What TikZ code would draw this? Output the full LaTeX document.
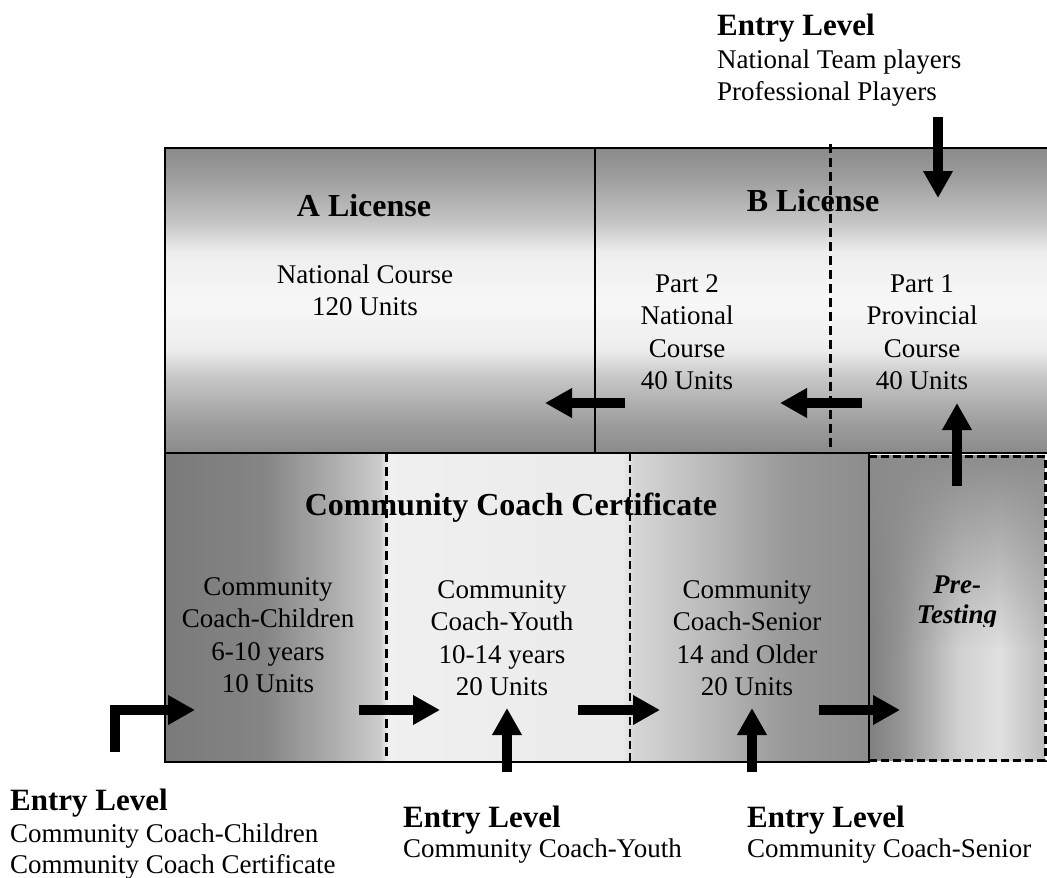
\documentclass[tikz,border=0pt]{standalone}
\usepackage{fontspec}
\setmainfont{Liberation Serif}
\usetikzlibrary{arrows.meta,fadings}

\definecolor{gA}{gray}{0.54}
\definecolor{gB}{gray}{0.62}
\definecolor{gC}{gray}{0.78}
\definecolor{gD}{gray}{0.93}
\definecolor{gE}{gray}{0.97}
\definecolor{h50}{gray}{0.48}
\definecolor{h53}{gray}{0.52}
\definecolor{h68}{gray}{0.68}
\definecolor{h82}{gray}{0.80}
\definecolor{h93}{gray}{0.94}
\definecolor{h92}{gray}{0.92}
\definecolor{h84}{gray}{0.84}
\definecolor{h74}{gray}{0.74}
\definecolor{h58}{gray}{0.60}
\definecolor{h55}{gray}{0.55}
\definecolor{p52}{gray}{0.50}
\definecolor{p58}{gray}{0.58}
\definecolor{p80}{gray}{0.82}
\definecolor{p84}{gray}{0.88}
\definecolor{p72}{gray}{0.74}
\definecolor{pover}{gray}{0.55}

\pgfdeclareverticalshading{topshade}{100bp}{color(0bp)=(gA); color(25bp)=(gA); color(30bp)=(gB); color(37.5bp)=(gC); color(42bp)=(gD); color(50bp)=(gE); color(58bp)=(gD); color(62.5bp)=(gC); color(70bp)=(gB); color(75bp)=(gA); color(100bp)=(gA)}
\pgfdeclarehorizontalshading{botshade}{100bp}{color(0bp)=(h50); color(25bp)=(h50); color(32bp)=(h53); color(37bp)=(h68); color(40.3bp)=(h82); color(40.8bp)=(h93); color(57.5bp)=(h92); color(58.3bp)=(h84); color(63bp)=(h74); color(69bp)=(h58); color(75bp)=(h55); color(100bp)=(h55)}
\pgfdeclarehorizontalshading{preshade}{100bp}{color(0bp)=(p52); color(25bp)=(p52); color(33.8bp)=(p58); color(50.9bp)=(p80); color(62bp)=(p84); color(75bp)=(p72); color(100bp)=(p72)}
\tikzfading[name=fadedown, top color=transparent!0, bottom color=transparent!100]

\tikzset{
  body/.style={font=\fontsize{27}{32.5}\selectfont, align=center, inner sep=0pt, anchor=north},
  bodyleft/.style={font=\fontsize{27}{31}\selectfont, align=left, inner sep=0pt, anchor=north west},
  titletext/.style={font=\fontsize{32}{36}\selectfont\bfseries, inner sep=0pt, anchor=base},
  entryhead/.style={font=\fontsize{31}{34}\selectfont\bfseries, inner sep=0pt, anchor=base west},
  pretext/.style={font=\fontsize{27}{30}\selectfont\bfseries\itshape, align=center, inner sep=0pt, anchor=north},
  blockarrow/.style={line width=10pt, -{Triangle[width=28pt,length=27pt]}},
  boxline/.style={line width=2pt},
  divline/.style={line width=1.5pt},
  thickdash/.style={line width=3pt, dash pattern=on 9pt off 5pt},
  thindash/.style={line width=1.4pt, dash pattern=on 8pt off 4pt},
  predash/.style={line width=3pt, dash pattern=on 8pt off 4pt}
}

\begin{document}
\begin{tikzpicture}[x=1pt,y=-1pt]
\useasboundingbox (0,0) rectangle (1047,878);

% ---- top box (A / B License)
\path[shading=topshade] (165,148) rectangle (1060,453);
\draw[boxline] (1060,148) -- (165,148) -- (165,453) -- (1060,453);

% ---- bottom box (Community Coach Certificate)
\path[shading=botshade] (165,453) rectangle (869,762);

% ---- pre-testing box
\path[shading=preshade] (869,455) rectangle (1045,760);
\fill[pover, path fading=fadedown] (869,455) rectangle (1045,650);

\draw[boxline] (165,453) rectangle (869,762);
\draw[predash] (869,456) -- (1045,456) -- (1045,760) -- (869,760);

% ---- texts
\node[titletext] (alic) at (364,216) {A License};
\node[body] (anat) at (365,260.5) {\strut National Course\\120 Units};
\node[titletext] (blic) at (813,211) {B License};
\node[body] (part2) at (687,269.5) {\strut Part 2\\National\\Course\\40 Units};
\node[body] (part1) at (922,269.5) {\strut Part 1\\Provincial\\Course\\40 Units};
\node[titletext] (ccc) at (511,515) {Community Coach Certificate};
\node[body] (child) at (268,572.5) {\strut Community\\Coach-Children\\6-10 years\\10 Units};
\node[body] (youth) at (502,575.5) {\strut Community\\Coach-Youth\\10-14 years\\20 Units};
\node[body] (senior) at (747,575.5) {\strut Community\\Coach-Senior\\14 and Older\\20 Units};
\begin{scope}
  \clip (869,455) rectangle (1045,626);
  \node[pretext] (pre) at (957,572) {\strut Pre-\\Testing};
\end{scope}

\node[entryhead] (eltop) at (717,35) {Entry Level};
\node[bodyleft, font=\fontsize{27}{32}\selectfont] (eltoptxt) at (717,45.6) {\strut National Team players\\Professional Players};
\node[entryhead] (elbl) at (10,810) {Entry Level};
\node[bodyleft] (elbltxt) at (10,820.3) {\strut Community Coach-Children\\Community Coach Certificate};
\node[entryhead] (elbm) at (403,827) {Entry Level};
\node[bodyleft] (elbmtxt) at (403,835.3) {\strut Community Coach-Youth};
\node[entryhead] (elbr) at (747,827) {Entry Level};
\node[bodyleft] (elbrtxt) at (747,835.3) {\strut Community Coach-Senior};

% ---- dividers
\draw[divline] (595,148) -- (595,453);
\draw[thickdash] (830,144) -- (830,453);
\draw[thickdash] (386,453) -- (386,762);
\draw[thindash] (630,453) -- (630,762);
\draw[divline] (869,453) -- (869,762);

% ---- arrow end points
\coordinate (topS) at (938,117);   \coordinate (topE) at (938,198);
\coordinate (p2S) at (625,403);    \coordinate (p2E) at (545,403);
\coordinate (p1S) at (862,403);    \coordinate (p1E) at (780,403);
\coordinate (prS) at (957,486);    \coordinate (prE) at (957,403);
\coordinate (elS) at (115,752);    \coordinate (elK) at (115,710);  \coordinate (elE) at (195,710);
\coordinate (chS) at (359,710);    \coordinate (chE) at (440,710);
\coordinate (yoS) at (578,710);    \coordinate (yoE) at (660,710);
\coordinate (seS) at (819,710);    \coordinate (seE) at (900,710);
\coordinate (upYS) at (507,772);   \coordinate (upYE) at (507,708);
\coordinate (upSS) at (752,772);   \coordinate (upSE) at (752,708);

\draw[blockarrow] (topS) -- (topE);
\draw[blockarrow] (p2S) -- (p2E);
\draw[blockarrow] (p1S) -- (p1E);
\draw[blockarrow] (prS) -- (prE);
\draw[blockarrow] (elS) -- (elK) -- (elE);
\draw[blockarrow] (chS) -- (chE);
\draw[blockarrow] (yoS) -- (yoE);
\draw[blockarrow] (seS) -- (seE);
\draw[blockarrow] (upYS) -- (upYE);
\draw[blockarrow] (upSS) -- (upSE);
\end{tikzpicture}
\end{document}
